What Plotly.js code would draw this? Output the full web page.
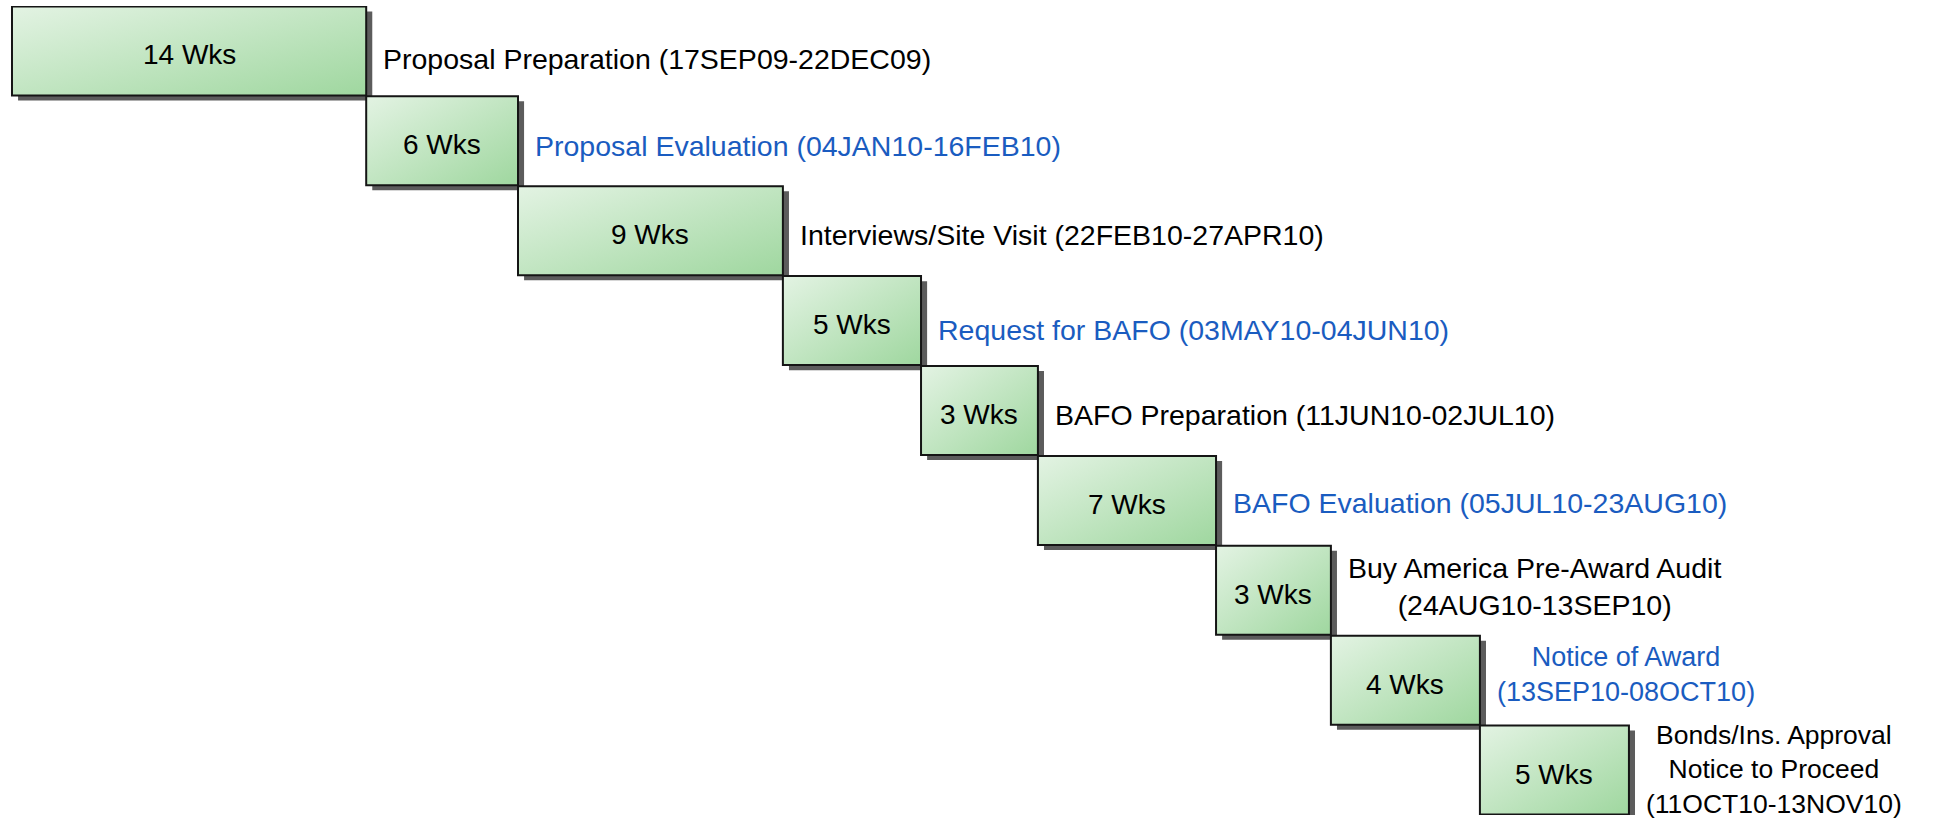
<!DOCTYPE html>
<html>
<head>
<meta charset="utf-8">
<script src="https://cdn.plot.ly/plotly-3.0.1.min.js"></script>
<style>
html, body { margin: 0; padding: 0; background: #ffffff; }
#chart { width: 1950px; height: 822px; }
</style>
</head>
<body>
<div id="chart"></div>
<script>
// ---- data ----
const tasks = [
  "Proposal Preparation",
  "Proposal Evaluation",
  "Interviews/Site Visit",
  "Request for BAFO",
  "BAFO Preparation",
  "BAFO Evaluation",
  "Buy America Pre-Award Audit",
  "Notice of Award",
  "Bonds/Ins. Approval Notice to Proceed"
];
const labels = [
  "Proposal Preparation (17SEP09-22DEC09)",
  "Proposal Evaluation (04JAN10-16FEB10)",
  "Interviews/Site Visit (22FEB10-27APR10)",
  "Request for BAFO (03MAY10-04JUN10)",
  "BAFO Preparation (11JUN10-02JUL10)",
  "BAFO Evaluation (05JUL10-23AUG10)",
  "Buy America Pre-Award Audit<br>(24AUG10-13SEP10)",
  "Notice of Award<br>(13SEP10-08OCT10)",
  "Bonds/Ins. Approval<br>Notice to Proceed<br>(11OCT10-13NOV10)"
];
const weeks = [14, 6, 9, 5, 3, 7, 3, 4, 5];
// bar extents along the (unlabelled) timeline, as drawn
const barStart = [0, 14, 20, 30.47, 35.93, 40.55, 47.59, 52.13, 58.02];
const barEnd   = [14, 20, 30.47, 35.93, 40.55, 47.59, 52.13, 58.02, 63.91];

// ---- styling ----
const FONT = "Liberation Sans, Arial, Helvetica, sans-serif";
const BLUE = "#1a5cc0";
const spans = barEnd.map((e, i) => e - barStart[i]);
const shadowDx = 0.24;   // timeline units
const shadowDy = 0.056;  // category units
const labelShift = [-8, -5.5, -4, -9, -4, -3, 4, 6, 1];       // px, label nudges
const labelSize  = [28.5, 28.5, 28.5, 28.5, 28.5, 28.5, 28.5, 27, 26.5];

const shadow = {
  type: "bar", orientation: "h",
  y: tasks, x: spans, base: barStart.map(v => v + shadowDx),
  width: 0.99, offset: -0.495 + shadowDy,
  marker: { color: "#5c5c5c", line: { width: 0 } },
  hoverinfo: "skip", showlegend: false
};
const boxes = {
  type: "bar", orientation: "h",
  y: tasks, x: spans, base: barStart,
  width: 0.99, offset: -0.495,
  marker: { color: "#c0e6c0", line: { width: 2, color: "#151515" } },
  hoverinfo: "skip", showlegend: false
};

const boxText = weeks.map((w, i) => ({
  x: (barStart[i] + barEnd[i]) / 2, y: tasks[i], xref: "x", yref: "y",
  text: w + " Wks", showarrow: false,
  xanchor: "center", yanchor: "middle", yshift: -4,
  font: { family: FONT, size: 28, color: "#000000" }
}));

const sideText = labels.map((t, i) => ({
  x: barEnd[i], y: tasks[i], xref: "x", yref: "y",
  text: t, showarrow: false,
  xanchor: "left", yanchor: "middle", align: "center",
  xshift: 15, yshift: labelShift[i],
  font: { family: FONT, size: labelSize[i], color: i % 2 === 1 ? BLUE : "#000000" }
}));

const layout = {
  width: 1950, height: 822,
  margin: { l: 0, r: 0, t: 6, b: 7, pad: 0 },
  paper_bgcolor: "#ffffff", plot_bgcolor: "#ffffff",
  barmode: "overlay",
  showlegend: false,
  xaxis: { range: [-0.474, 76.6], visible: false, showgrid: false, zeroline: false },
  yaxis: { type: "category", range: [8.5, -0.5], visible: false, showgrid: false, zeroline: false },
  annotations: boxText.concat(sideText),
  font: { family: FONT }
};

Plotly.newPlot("chart", [shadow, boxes], layout, { staticPlot: true, displayModeBar: false }).then(gd => {
  const svg = gd.querySelector(".main-svg");
  const NS = "http://www.w3.org/2000/svg";
  let defs = svg.querySelector("defs");
  if (!defs) { defs = document.createElementNS(NS, "defs"); svg.insertBefore(defs, svg.firstChild); }
  const grad = document.createElementNS(NS, "linearGradient");
  grad.setAttribute("id", "boxGrad");
  grad.setAttribute("x1", "0"); grad.setAttribute("y1", "0");
  grad.setAttribute("x2", "1"); grad.setAttribute("y2", "1");
  [["0%", "#e3f3e3"], ["100%", "#9fd79f"]].forEach(([o, c]) => {
    const s = document.createElementNS(NS, "stop");
    s.setAttribute("offset", o); s.setAttribute("stop-color", c);
    grad.appendChild(s);
  });
  defs.appendChild(grad);
  const traces = gd.querySelectorAll(".barlayer .trace");
  if (traces.length > 1) {
    traces[1].querySelectorAll(".point path").forEach(p => { p.style.fill = "url(#boxGrad)"; });
  }
});
</script>
</body>
</html>
